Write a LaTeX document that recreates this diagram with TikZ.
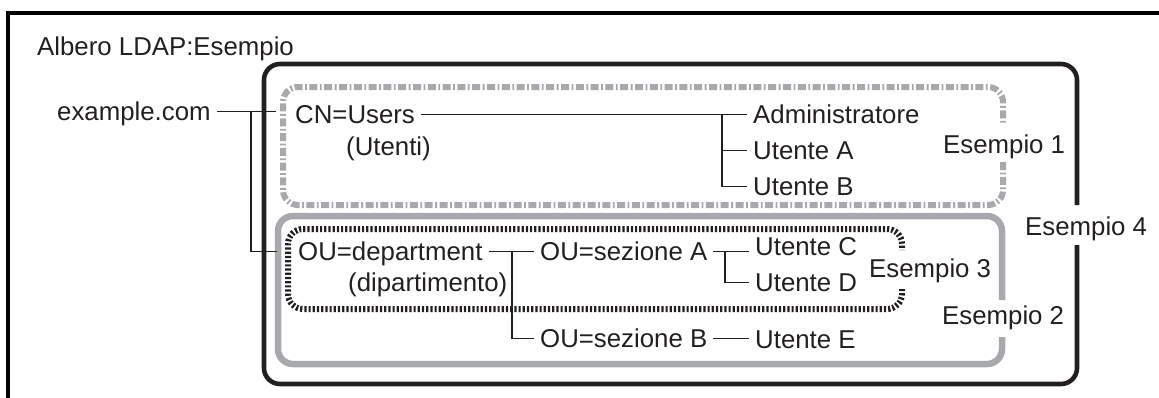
\documentclass[tikz,border=0pt]{standalone}
\usepackage{fontspec}
\setmainfont{Liberation Sans}
\definecolor{lgrey}{RGB}{167,169,172}
\definecolor{ink}{RGB}{35,31,32}
\begin{document}
\begin{tikzpicture}[x=1pt,y=-1pt,
  lbl/.style={font=\fontsize{25.8}{30}\selectfont, text=ink, inner xsep=6pt, inner ysep=0pt,
              text height=17pt, text depth=0pt, anchor=base west},
  conn/.style={draw=ink, line width=1.4pt},
  frameline/.style={draw=black, line width=3.5pt},
  ex4box/.style={draw=ink, line width=4.6pt, rounded corners=16pt},
  ex1box/.style={draw=lgrey, line width=6pt, rounded corners=15pt,
                 dash pattern=on 8pt off 2.5pt on 1.8pt off 2.5pt},
  ex2box/.style={draw=lgrey, line width=6.5pt, rounded corners=15pt},
  ex3box/.style={draw=ink, line width=6pt, rounded corners=15pt,
                 dash pattern=on 2.2pt off 2pt}]
\useasboundingbox (0,0) rectangle (1159,397);
% frame
\draw[frameline] (8,400) -- (8,13) -- (1162,13);
% boxes
\draw[ex4box] (1077,245) -- (1077,384) -- (264,384) -- (264,64) -- (1077,64) -- (1077,205);
\draw[ex1box] (1003,162) -- (1003,205) -- (283,205) -- (283,87) -- (1003,87) -- (1003,125);
\draw[ex2box] (1002,337) -- (1002,364) -- (278,364) -- (278,216) -- (1002,216) -- (1002,300);
\draw[ex3box] (902,289) -- (902,309) -- (288,309) -- (288,229) -- (902,229) -- (902,250);
% texts
\node[lbl] (title) at (31,55) {Albero LDAP:Esempio};
\node[lbl] (ex) at (51,120) {example.com};
\node[lbl] (cn) at (289,123) {CN=Users};
\node[lbl] (cnu) at (340,155) {(Utenti)};
\node[lbl] (adm) at (747,123) {Administratore};
\node[lbl] (ua) at (747,159) {Utente A};
\node[lbl] (ub) at (747,195) {Utente B};
\node[lbl] (e1) at (937,153) {Esempio 1};
\node[lbl] (ou) at (292,260) {OU=department};
\node[lbl] (oud) at (342,291) {(dipartimento)};
\node[lbl] (sa) at (534,260) {OU=sezione A};
\node[lbl] (sb) at (534,347) {OU=sezione B};
\node[lbl] (uc) at (749,255) {Utente C};
\node[lbl] (ud) at (749,291) {Utente D};
\node[lbl] (ue) at (749,348) {Utente E};
\node[lbl] (e3) at (863,277) {Esempio 3};
\node[lbl] (e4) at (1019,235) {Esempio 4};
\node[lbl] (e2) at (936,324) {Esempio 2};
% connectors
\coordinate (j0) at (251,0);
\coordinate (j1) at (722,0);
\coordinate (j2) at (512,0);
\coordinate (j3) at (725,0);
\coordinate (cnin) at (276,0);
\coordinate (ouin) at (277,0);
\draw[conn] (ex.east) -- (ex.east -| cnin);
\draw[conn] (ex.east -| j0) |- (ou.west -| ouin);
\draw[conn] (cn.east) -- (adm.west);
\draw[conn] (adm.west -| j1) |- (ua.west);
\draw[conn] (adm.west -| j1) |- (ub.west);
\draw[conn] (ou.east) -- (sa.west);
\draw[conn] (ou.east -| j2) |- (sb.west);
\draw[conn] (sa.east) -- (sa.east -| uc.west);
\draw[conn] (sa.east -| j3) |- (ud.west);
\draw[conn] (sb.east) -- (sb.east -| ue.west);
\end{tikzpicture}
\end{document}
